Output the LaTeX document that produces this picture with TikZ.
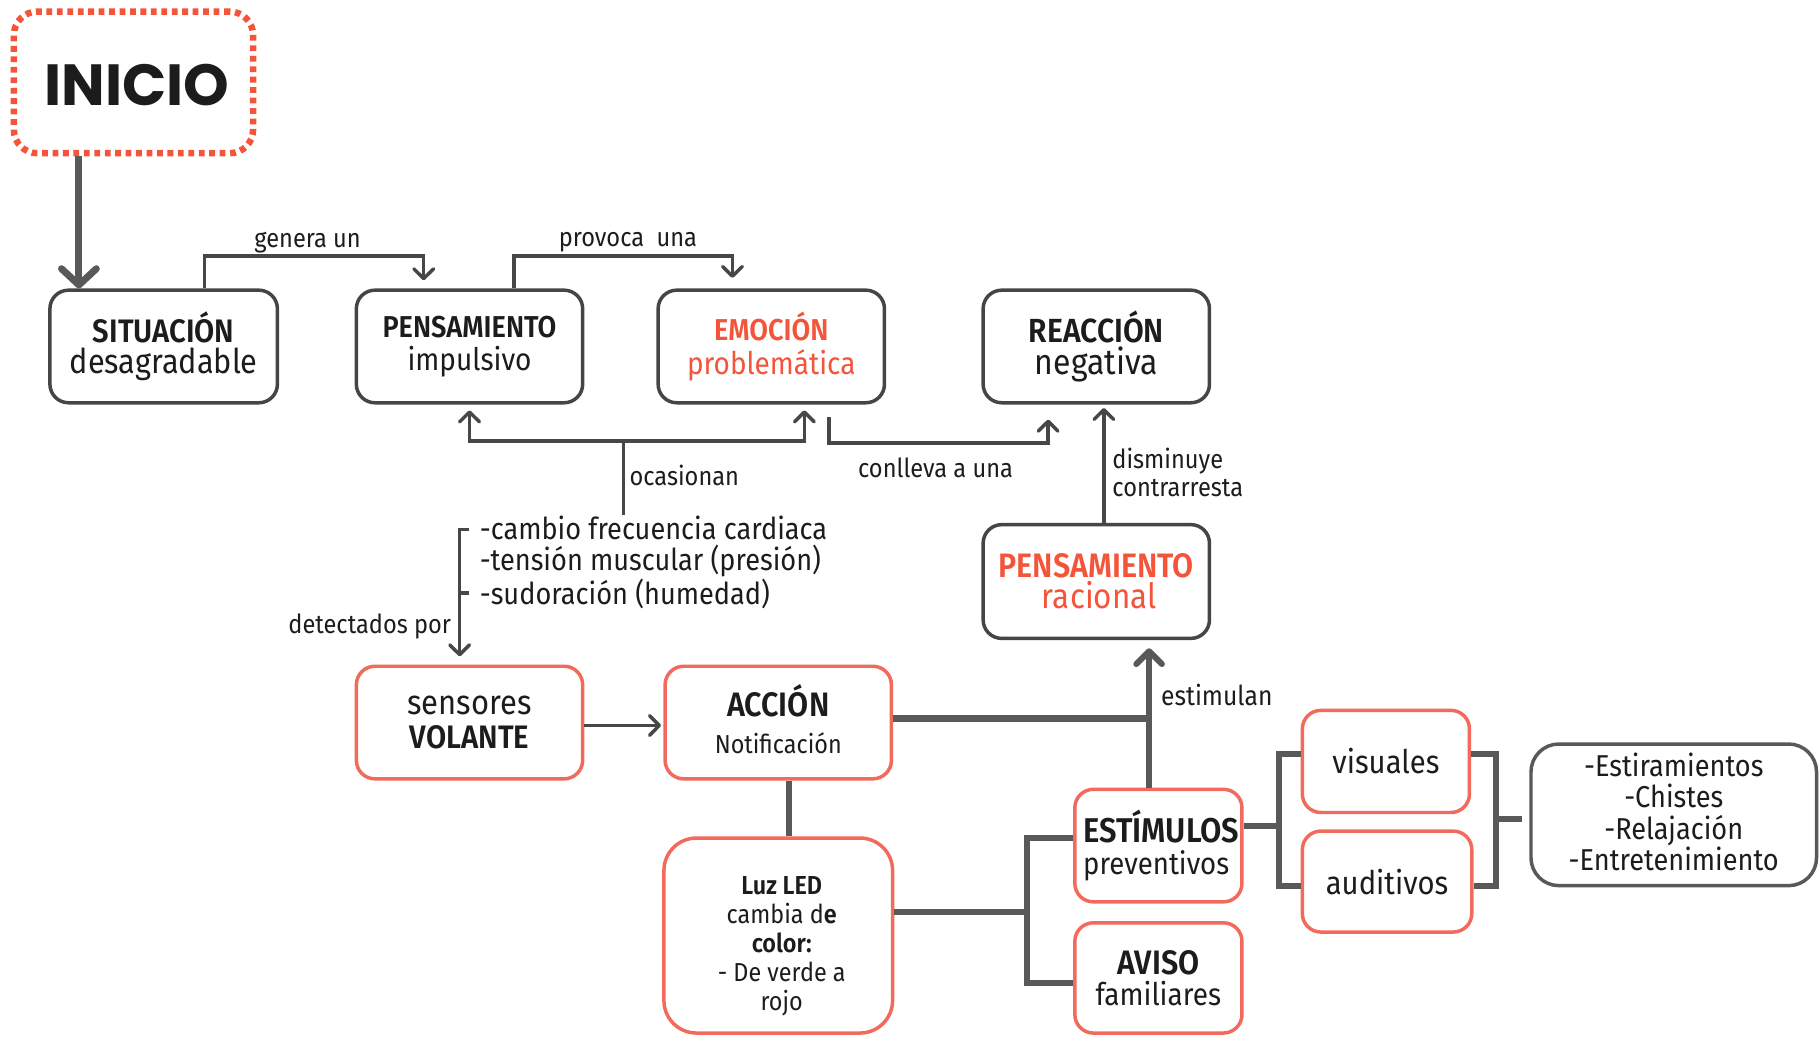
\documentclass[tikz,border=0pt]{standalone}
\usepackage{fontspec}
\setmainfont{Fira Sans}[FakeStretch=0.9, BoldFont={* SemiBold}]
\newfontfamily\inifont{Poppins}
\usetikzlibrary{arrows.meta}

\definecolor{ink}{HTML}{1C1C1C}
\definecolor{edgec}{HTML}{454545}
\definecolor{coral}{HTML}{F26A5C}
\definecolor{hotred}{HTML}{F4553A}
\definecolor{linec}{HTML}{474747}
\definecolor{thickc}{HTML}{595959}

% title / subtitle fonts, optional size in pt
\newcommand{\ttl}[1][13]{\fontsize{#1}{13.5}\selectfont\bfseries\ignorespaces}
\newcommand{\sbt}[1][14]{\fontsize{#1}{13.5}\selectfont\ignorespaces}

\begin{document}
\begin{tikzpicture}[x=0.5pt,y=-0.5pt,
  dims/.style 2 args={minimum width={#1*0.5pt}, minimum height={#2*0.5pt}},
  box/.style={draw=edgec, line width=1.5pt, rounded corners=8pt, fill=white,
    align=center, inner sep=0pt, text=ink, font=\fontsize{13}{13.5}\selectfont},
  hot/.style={box, draw=coral},
  lbl/.style={inner sep=0pt, text=ink, font=\fontsize{11.3}{12}\selectfont, align=left},
  conn/.style={draw=linec, line width=1.5pt},
  heavy/.style={draw=thickc, line width=2.6pt},
  arr/.style={-{Straight Barb[round,length=4.2pt,width=8.5pt]}},
  bigarr/.style={-{Straight Barb[round,length=5.5pt,width=11pt]}}
]
\useasboundingbox (0,0) rectangle (1568,893);

% start node
\node[draw=hotred, line width=2.8pt, dash pattern=on 2.5pt off 2pt,
      rounded corners=10pt, dims={206}{122}, inner sep=0pt, text=ink]
  (ini) at (115,71) {};
\node[inner sep=0pt, text=ink] (initxt) at ([xshift=1.5pt,yshift=-1pt]ini.center)
  {\inifont\bfseries\fontsize{25}{24}\selectfont INICIO};

% first row
\node[box, dims={196}{97}] (sit) at (141,298.5)
  {{\ttl[14] SITUACIÓN}\\{\sbt[14.7] desagradable}};
\node[box, dims={195}{97}] (imp) at (404.5,298.5)
  {{\ttl[13] PENSAMIENTO}\\[1pt]{\sbt[13.4] impulsivo}};
\node[box, dims={195}{97}, text=hotred] (emo) at (664.5,298.5)
  {{\ttl[13] EMOCIÓN}\\[1pt]{\sbt[13.4] problemática}};
\node[box, dims={195}{97}] (rea) at (944.5,298.5)
  {{\ttl[14.4] REACCIÓN}\\{\sbt[15.3] negativa}};
\node[box, dims={195}{98}, text=hotred] (rac) at (944.5,501)
  {{\ttl[14.6] PENSAMIENTO}\\{\sbt[15] \hspace*{2.5pt}racional}};

% symptoms list
\node[lbl, anchor=north west, font=\fontsize{13}{13.5}\selectfont] (sig) at (413,444)
  {-cambio frecuencia cardiaca\\-tensión muscular (presión)\\-sudoración (humedad)};

% second row
\node[hot, dims={195}{97}] (sen) at (404.5,622.5)
  {{\sbt[14.8] sensores}\\[1.5pt]{\ttl[14] VOLANTE}};
\node[hot, dims={195}{97}] (acc) at (670.5,622.5) {};
\node[inner sep=0pt, align=center, text=ink] (acctxt) at ([yshift=1.5pt]acc.center)
  {{\ttl[14.6] ACCIÓN}\\[4pt]{\fontsize{11.2}{13}\selectfont Notificación}};
\node[hot, dims={197}{168}, rounded corners=14pt] (led) at (670.5,806) {};
\node[inner sep=0pt, align=center, text=ink, font=\fontsize{11.2}{12.5}\selectfont]
  (ledtxt) at ([xshift=1.5pt,yshift=-4.5pt]led.center)
  {\textbf{Luz LED}\\cambia d\textbf{e}\\\textbf{color:}\\- De verde a\\rojo};
\node[hot, dims={144}{97}, align=left] (est) at (998,728.5)
  {{\ttl[14.8]\hspace*{2.5pt}ESTÍMULOS}\\{\sbt[13.2]\hspace*{2.5pt}preventivos}};
\node[hot, dims={144}{95}] (avi) at (998,842.5)
  {{\ttl[14.6] AVISO}\\{\sbt[13.4] familiares}};
\node[hot, dims={144}{88}, font=\fontsize{14}{14}\selectfont] (vis) at (1194,656) {visuales};
\node[hot, dims={146}{87}, font=\fontsize{14}{14}\selectfont] (aud) at (1195,759.5) {auditivos};
\node[box, draw=thickc, dims={246}{122}, rounded corners=12pt] (lst) at (1442,702) {};
\node[inner sep=0pt, align=center, text=ink, font=\fontsize{13}{13.5}\selectfont]
  (lsttxt) at ([yshift=1.2pt]lst.center)
  {-Estiramientos\\-Chistes\\-Relajación\\-Entretenimiento};

% connector labels
\node[lbl] (lgen) at (265,209) {genera un};
\node[lbl] (lpro) at (541,209) {provoca\ \ una};
\node[lbl, anchor=west] (loca) at (542,410) {ocasionan};
\node[lbl] (lcon) at (806,403) {conlleva a una};
\node[lbl, anchor=north west] (ldis) at (958,386) {disminuye\\contrarresta};
\node[lbl, anchor=east] (ldet) at (389,540) {detectados por};
\node[lbl, anchor=west, font=\fontsize{11.8}{12}\selectfont] (lest) at (1000,599) {estimulan};

% start arrow
\draw[draw=thickc, line width=3pt, -{Straight Barb[round,length=7pt,width=15pt]}]
  ([xshift=-23.5pt]ini.south) -- ([xshift=-23.5pt]ini.south |- sit.north);

% first row chain
\draw[conn, arr, shorten >=3.5pt]
  ([xshift=17.5pt]sit.north) -- ++(0,-28) -| ([xshift=-19.75pt]imp.north);
\draw[conn, arr, shorten >=4.5pt]
  ([xshift=19.25pt]imp.north) -- ++(0,-28) -| ([xshift=-16.75pt]emo.north);

% ocasionan
\coordinate (oc) at (537,380);
\draw[conn] (sig.north -| oc) -- (oc);
\draw[conn, arr, shorten >=2.5pt] (oc) -| (imp.south);
\draw[conn, arr, shorten >=2.5pt] (oc) -| ([xshift=14.25pt]emo.south);

% conlleva a una
\draw[conn, arr, shorten <=5.5pt, shorten >=6.5pt]
  ([xshift=24.75pt]emo.south) -- ++(0,33) -| ([xshift=-20.75pt]rea.south);

% disminuye / contrarresta
\draw[conn, arr, shorten >=1.5pt] ([xshift=3.25pt]rac.north) -- ([xshift=3.25pt]rac.north |- rea.south);

% detectados por
\draw[conn, arr, shorten >=3.5pt]
  ([shift={(-9,12)}]sig.north west) -- ++(-8,0) coordinate (bk) -- (bk |- sen.north);
\draw[conn] (bk |- 0,511) -- ++(8,0);

% sensores -> accion
\draw[conn, arr, shorten >=1pt] ([yshift=-1.25pt]sen.east) -- ([yshift=-1.25pt]acc.west);

% accion / estimulos -> pensamiento racional
\draw[heavy] ([yshift=1.75pt]acc.east) -| ([xshift=-4pt]est.north);
\draw[heavy, bigarr, shorten >=3.5pt] ([xshift=-4pt]est.north) -- ([xshift=-4pt]est.north |- rac.south);

% accion -> luz LED
\draw[heavy] ([xshift=4.75pt]acc.south) -- ([xshift=4.75pt]acc.south |- led.north);

% luz LED -> estimulos / aviso
\draw[heavy] ([yshift=10pt]led.east) -- ++(114,0) coordinate (j2);
\draw[heavy] ([yshift=3.25pt]est.west) -| (j2) |- ([yshift=-2.25pt]avi.west);

% estimulos -> visuales / auditivos
\draw[heavy] ([yshift=8.25pt]est.east) -- ++(30,0) coordinate (j3);
\draw[heavy] ([yshift=3pt]vis.west) -| (j3) |- ([yshift=-1.75pt]aud.west);

% visuales / auditivos -> list
\draw[heavy, shorten <=3pt] ([yshift=-2pt]lst.west) -- ++(-29,0) coordinate (j4);
\draw[heavy] ([yshift=3pt]vis.east) -| (j4) |- ([yshift=-1.75pt]aud.east);
\end{tikzpicture}
\end{document}
